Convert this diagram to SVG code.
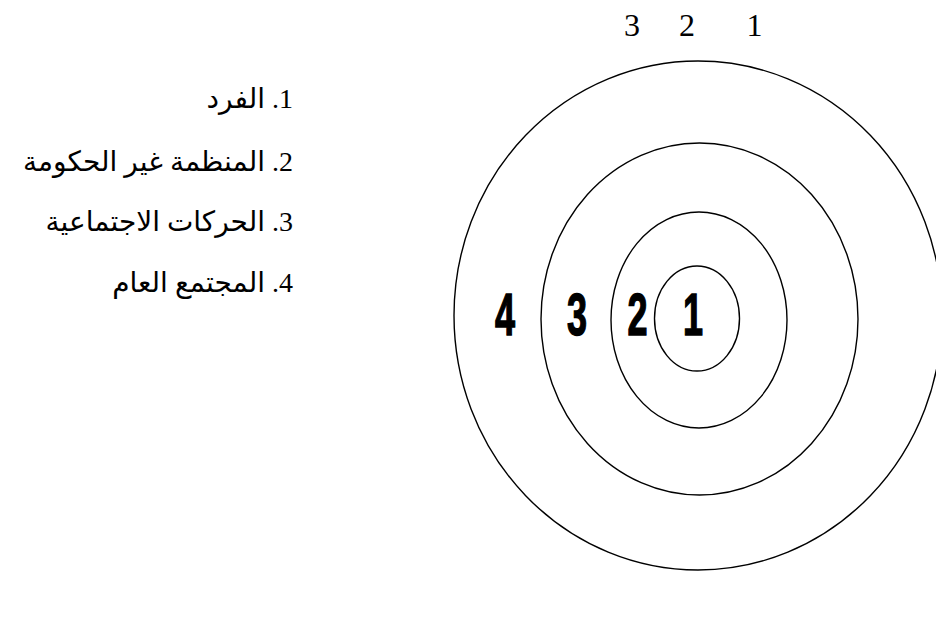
<svg xmlns="http://www.w3.org/2000/svg" width="936" height="619" viewBox="0 0 936 619">
<style>
.ring{fill:none;stroke:#000;stroke-width:1.4}
.top{font-family:"Liberation Serif",serif;font-size:32px;fill:#000;text-anchor:middle}
.item{font-family:"Liberation Serif","DejaVu Sans",serif;font-size:28px;fill:#000}
.big{font-family:"Liberation Sans",sans-serif;font-weight:bold;font-size:60px;fill:#000;stroke:#000;stroke-width:1.5;text-anchor:middle}
</style>
<rect width="936" height="619" fill="#fff"/>
<g id="ring4"><ellipse class="ring" cx="698" cy="315.5" rx="244" ry="254.5"/></g>
<g id="ring3"><ellipse class="ring" cx="699.5" cy="319" rx="158.5" ry="176"/></g>
<g id="ring2"><ellipse class="ring" cx="699" cy="320" rx="88" ry="108"/></g>
<g id="ring1"><ellipse class="ring" cx="697" cy="318.5" rx="42.5" ry="52.5"/></g>
<g id="ring-labels">
<text class="big" transform="translate(505,335) scale(0.6,1)">4</text>
<text class="big" transform="translate(577,335) scale(0.6,1)">3</text>
<text class="big" transform="translate(637.5,335) scale(0.6,1)">2</text>
<text class="big" transform="translate(693,335) scale(0.6,1)">1</text>
</g>
<g id="top-numbers">
<text class="top" x="632" y="36">3</text>
<text class="top" x="687" y="36">2</text>
<text class="top" x="754.5" y="36">1</text>
</g>
<g id="legend">
<text class="item" x="293" y="108" direction="rtl" text-anchor="start">1. الفرد</text>
<text class="item" x="293" y="171" direction="rtl" text-anchor="start">2. المنظمة غير الحكومة</text>
<text class="item" x="293" y="231" direction="rtl" text-anchor="start">3. الحركات الاجتماعية</text>
<text class="item" x="293" y="292" direction="rtl" text-anchor="start">4. المجتمع العام</text>
</g>
<g id="connectors"/>
</svg>
